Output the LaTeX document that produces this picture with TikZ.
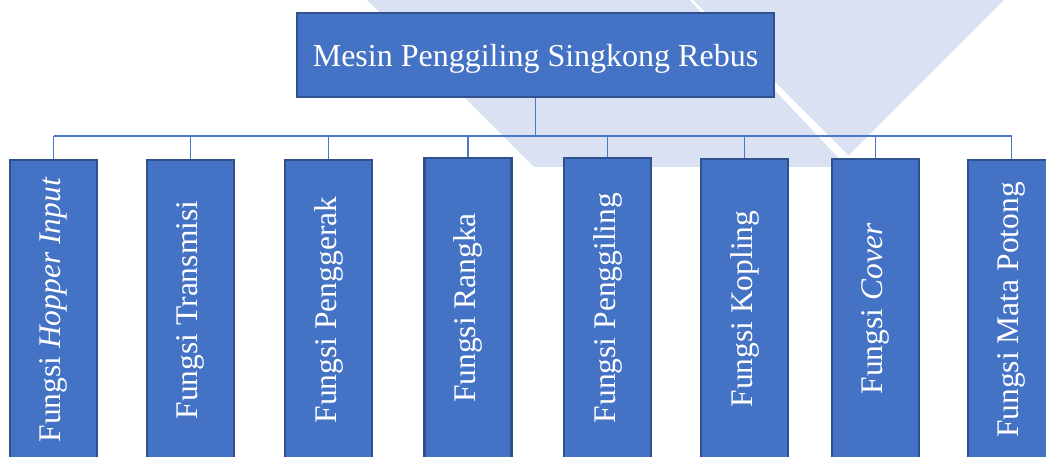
\documentclass[tikz,border=0pt]{standalone}
\usepackage{fontspec}
\setmainfont{Liberation Serif}
\definecolor{boxfill}{HTML}{4472C4}
\definecolor{boxline}{HTML}{2F528F}
\definecolor{connc}{HTML}{4A78C8}
\definecolor{wm}{HTML}{DAE1F2}
\tikzset{
  topbox/.style={draw=boxline, line width=2.2pt, fill=boxfill, text=white,
    font=\fontsize{32}{38}\selectfont, minimum width=477pt, minimum height=84pt, inner sep=0pt, text depth=0pt},
  childbox/.style={draw=boxline, line width=2.2pt, fill=boxfill, text=white,
    font=\fontsize{31.5}{38}\selectfont, rotate=90, minimum width=300pt, minimum height=87pt, inner sep=0pt},
  conn/.style={draw=connc, line width=1.3pt}
}
\begin{document}
\begin{tikzpicture}[x=1pt,y=-1pt]
\useasboundingbox (0,0) rectangle (1046,457);
\clip (0,0) rectangle (1046,457);
% watermark
\fill[wm] (362,-5) -- (685,-5) -- (847,167) -- (534,167) -- cycle;
\fill[wm] (688,-5) -- (1009,-5) -- (848.5,155.5) -- cycle;
% nodes
\node[topbox] (top) at (535.5,55) {Mesin Penggiling Singkong Rebus};
\node[childbox] (c1) at (53.5,310) {Fungsi \textit{Hopper Input}};
\node[childbox] (c2) at (190.5,310) {Fungsi Transmisi};
\node[childbox] (c3) at (328.5,310) {Fungsi Penggerak};
\node[childbox] (c4) at (468,308) {Fungsi Rangka};
\node[childbox] (c5) at (607.5,308) {Fungsi Penggiling};
\node[childbox] (c6) at (744.5,309) {Fungsi Kopling};
\node[childbox] (c7) at (875.5,309) {Fungsi \textit{Cover}};
\node[childbox] (c8) at (1011.5,310) {Fungsi Mata Potong};
% connectors
\coordinate (bus) at (0,136);
\draw[conn] (c1.east |- bus) -- (c8.east |- bus);
\draw[conn] (top.south) -- (top.south |- bus);
\foreach \c in {c1,c2,c3,c4,c5,c6,c7,c8}{
  \draw[conn] (\c.east) -- (\c.east |- bus);
}
\end{tikzpicture}
\end{document}
